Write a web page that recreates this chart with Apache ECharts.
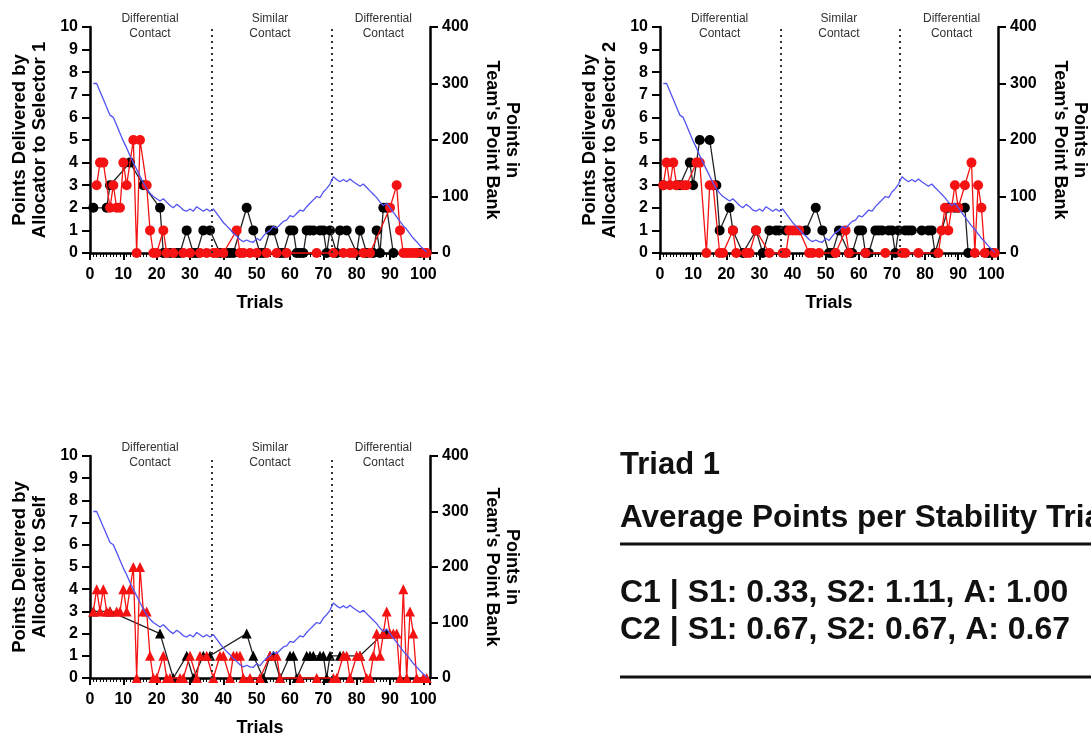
<!DOCTYPE html>
<html>
<head>
<meta charset="utf-8">
<script src="https://cdn.jsdelivr.net/npm/echarts@6/dist/echarts.min.js"></script>
<style>
html, body { margin: 0; padding: 0; background: #fff; }
#main { width: 1091px; height: 738px; }
</style>
</head>
<body>
<div id="main"></div>
<script>
// team's point bank, trials 1..101 (same for the three panels)
var bankPoints = [300, 300, 286, 272, 258, 244, 240, 226, 212, 198,
	186, 172, 160, 148, 136, 124, 114, 106, 100, 96,
	92, 96, 90, 84, 80, 86, 82, 76, 74, 78,
	74, 82, 78, 74, 78, 74, 78, 70, 62, 54,
	48, 42, 35, 30, 24, 20, 23, 20, 19, 26,
	22, 30, 36, 40, 47, 44, 50, 56, 58, 66,
	64, 70, 76, 74, 82, 88, 94, 100, 98, 108,
	114, 122, 135, 130, 126, 130, 126, 131, 126, 122,
	118, 122, 116, 110, 104, 98, 90, 84, 88, 80,
	72, 64, 56, 48, 42, 34, 26, 20, 13, 7, 2];

// [trial, points] for each panel
var sel1Black = [[1,2],[5,2],[6,3],[12,4],[16,3],[21,2],[22,0],[24,0],[26,0],[27,0],[29,1],[31,0],[32,0],[34,1],[36,1],
	[39,0],[41,0],[42,0],[43,0],[47,2],[49,1],[51,0],[52,0],[54,1],[55,1],[57,0],[58,0],[60,1],[61,1],[62,0],[63,0],
	[64,0],[65,1],[66,1],[67,1],[69,1],[70,1],[71,0],[72,1],[74,0],[75,1],[77,1],[80,0],[81,1],[83,0],[85,0],[86,1],
	[87,0],[88,2],[89,2],[91,0],[99,0]];
var sel1Red = [[2,3],[3,4],[4,4],[6,2],[7,3],[8,2],[9,2],[10,4],[11,3],[13,5],[14,0],[15,5],[17,3],[18,1],[19,0],[20,0],
	[22,1],[23,0],[25,0],[28,0],[30,0],[33,0],[35,0],[37,0],[38,0],[40,0],[44,1],[45,0],[46,0],[48,0],[50,0],[53,0],
	[56,0],[59,0],[68,0],[73,0],[76,0],[78,0],[79,0],[82,0],[84,0],[90,2],[92,3],[93,1],[94,0],[95,0],[96,0],[97,0],
	[98,0],[100,0],[101,0]];

var sel2Black = [[1,3],[5,3],[6,3],[9,4],[10,3],[12,5],[15,5],[17,3],[18,1],[21,2],[22,1],[25,0],[29,1],[31,0],[33,1],
	[35,1],[36,1],[38,1],[44,1],[47,2],[49,1],[51,0],[52,0],[54,1],[57,0],[58,0],[60,1],[61,1],[62,0],[63,0],[65,1],
	[66,1],[67,1],[69,1],[70,1],[71,0],[72,1],[74,1],[75,1],[76,1],[79,1],[81,1],[82,1],[83,0],[87,2],[89,2],[90,2],
	[92,2],[93,0],[99,0],[100,0]];
var sel2Red = [[1,3],[2,4],[3,3],[4,4],[5,3],[7,3],[8,3],[11,4],[12,4],[14,0],[15,3],[16,3],[18,0],[19,0],[22,1],[23,0],
	[26,0],[27,0],[29,1],[33,0],[37,0],[38,0],[39,1],[40,1],[41,1],[42,1],[45,0],[46,0],[48,0],[53,0],[56,1],[57,0],
	[62,0],[68,0],[73,0],[74,0],[78,0],[84,0],[85,1],[86,2],[87,1],[88,2],[89,3],[90,2],[92,3],[94,4],[95,0],[96,3],
	[97,2],[98,0],[101,0]];

var selfBlack = [[1,3],[6,3],[21,2],[25,0],[29,1],[31,0],[34,1],[36,1],[47,2],[49,1],[52,0],[54,1],[55,1],[57,0],[60,1],
	[61,1],[62,0],[65,1],[66,1],[67,1],[69,1],[70,1],[71,0],[72,1],[75,1],[76,1],[81,1],[88,2],[89,2]];
var selfRed = [[1,3],[2,4],[3,3],[4,4],[5,3],[6,3],[8,3],[9,3],[10,4],[11,3],[12,4],[13,5],[14,0],[15,5],[16,3],[17,3],
	[18,1],[19,0],[20,0],[22,1],[23,0],[24,0],[27,0],[28,0],[30,1],[32,0],[33,1],[35,1],[37,0],[39,1],[40,1],[42,0],
	[43,1],[44,1],[45,1],[46,0],[48,0],[51,0],[54,1],[56,1],[57,0],[63,0],[68,0],[73,0],[74,0],[76,1],[77,1],[78,0],
	[80,1],[81,1],[83,0],[84,0],[85,1],[86,2],[87,1],[88,2],[89,3],[90,2],[91,2],[92,2],[93,0],[94,4],[95,0],[96,3],
	[97,2],[98,0],[100,0],[101,0]];

var phaseBreaks = [36.5, 72.5];
var phaseCenters = [18, 54, 88];
var phaseNames = ['Differential\nContact', 'Similar\nContact', 'Differential\nContact'];
var leftNames = ['Points Delivered by\nAllocator to Selector 1', 'Points Delivered by\nAllocator to Selector 2', 'Points Delivered by\nAllocator to Self'];
var rightName = "Points in\nTeam's Point Bank";
var summaryTitle = 'Triad 1';
var summaryHead = 'Average Points per Stability Trials';
var summaryLines = ['C1 | S1: 0.33, S2: 1.11, A: 1.00', 'C2 | S1: 0.67, S2: 0.67, A: 0.67'];

var FONT = 'Liberation Sans, Arial, Helvetica, sans-serif';
var panels = [
	{ left: 90, top: 27, black: sel1Black, red: sel1Red, symbol: 'circle' },
	{ left: 660, top: 27, black: sel2Black, red: sel2Red, symbol: 'circle' },
	{ left: 90, top: 456, black: selfBlack, red: selfRed, symbol: 'triangle' }
];

var myChart = echarts.init(document.getElementById('main'));

var grid = [], xAxis = [], yAxis = [], series = [];
var bankData = bankPoints.map(function(v, i) { return [i + 1, v]; });

panels.forEach(function(p, i) {
	grid.push({ left: p.left, top: p.top, width: 340, height: 226 });
	xAxis.push({
		gridIndex: i, type: 'value', min: 0, max: 102, interval: 10,
		axisLine: { onZero: false, lineStyle: { color: '#000', width: 2.5 } },
		axisTick: { length: 7, lineStyle: { color: '#000', width: 2 } },
		minorTick: { show: true, splitNumber: 10, length: 4, lineStyle: { color: '#000', width: 1 } },
		splitLine: { show: false },
		axisLabel: {
			margin: 14, color: '#000', fontSize: 16, fontWeight: 'bold', fontFamily: FONT,
			formatter: function(v) { return v > 100 ? '' : v; }
		},
		name: 'Trials', nameLocation: 'middle', nameGap: 41,
		nameTextStyle: { color: '#000', fontSize: 18, fontWeight: 'bold', fontFamily: FONT }
	});
	yAxis.push({
		gridIndex: i, type: 'value', position: 'left', min: 0, max: 10, interval: 1,
		axisLine: { show: true, lineStyle: { color: '#000', width: 2.5 } },
		axisTick: { show: true, length: 8, lineStyle: { color: '#000', width: 2 } },
		splitLine: { show: false },
		axisLabel: { margin: 12, color: '#000', fontSize: 16, fontWeight: 'bold', fontFamily: FONT },
		name: leftNames[i], nameLocation: 'middle', nameGap: 40,
		nameTextStyle: { color: '#000', fontSize: 18.5, fontWeight: 'bold', fontFamily: FONT, lineHeight: 20 }
	});
	yAxis.push({
		gridIndex: i, type: 'value', position: 'right', min: 0, max: 400, interval: 100,
		axisLine: { show: true, lineStyle: { color: '#000', width: 2.5 } },
		axisTick: { show: true, length: 8, lineStyle: { color: '#000', width: 2 } },
		splitLine: { show: false },
		axisLabel: { margin: 12, color: '#000', fontSize: 16, fontWeight: 'bold', fontFamily: FONT },
		name: rightName, nameLocation: 'middle', nameGap: 52, nameRotate: -90,
		nameTextStyle: { color: '#000', fontSize: 18, fontWeight: 'bold', fontFamily: FONT, lineHeight: 20 }
	});

	series.push({
		type: 'line', xAxisIndex: i, yAxisIndex: 2 * i, data: p.black, clip: false,
		symbol: p.symbol, symbolSize: 10,
		itemStyle: { color: '#000' }, lineStyle: { color: '#222', width: 1.3 },
		markLine: {
			silent: true, symbol: 'none', label: { show: false },
			lineStyle: { type: [2, 4], color: '#333', width: 2 },
			data: phaseBreaks.map(function(x) { return { xAxis: x }; })
		},
		z: 3
	});
	series.push({
		type: 'line', xAxisIndex: i, yAxisIndex: 2 * i, data: p.red, clip: false,
		symbol: p.symbol, symbolSize: 10,
		itemStyle: { color: '#f51212' }, lineStyle: { color: '#f51212', width: 1.3 },
		z: 4
	});
	series.push({
		type: 'line', xAxisIndex: i, yAxisIndex: 2 * i + 1, data: bankData,
		showSymbol: false, symbol: 'none',
		lineStyle: { color: '#5252f2', width: 1.3 },
		z: 5
	});
});

var option = {
	backgroundColor: '#fff',
	animation: false,
	grid: grid,
	xAxis: xAxis,
	yAxis: yAxis,
	series: series
};
myChart.setOption(option);

// phase labels over each panel, summary text on the right
var graphic = [];
panels.forEach(function(p, i) {
	var topY = myChart.convertToPixel({ yAxisIndex: 2 * i }, 10);
	phaseCenters.forEach(function(c, k) {
		graphic.push({
			type: 'text',
			style: {
				x: myChart.convertToPixel({ xAxisIndex: i }, c), y: topY - 1,
				text: phaseNames[k], fill: '#333', font: '12px ' + FONT,
				align: 'center', verticalAlign: 'middle', lineHeight: 15
			}
		});
	});
});
graphic.push({ type: 'text', style: { x: 620, y: 465, text: summaryTitle, fill: '#111', font: 'bold 31px ' + FONT, verticalAlign: 'middle' } });
graphic.push({ type: 'text', style: { x: 620, y: 518, text: summaryHead, fill: '#111', font: 'bold 31.5px ' + FONT, verticalAlign: 'middle' } });
graphic.push({ type: 'line', shape: { x1: 620, y1: 544, x2: 1091, y2: 544 }, style: { stroke: '#111', lineWidth: 3 } });
summaryLines.forEach(function(t, k) {
	graphic.push({ type: 'text', style: { x: 620, y: 593 + k * 37, text: t, fill: '#111', font: 'bold 32px ' + FONT, verticalAlign: 'middle' } });
});
graphic.push({ type: 'line', shape: { x1: 620, y1: 677, x2: 1091, y2: 677 }, style: { stroke: '#111', lineWidth: 3 } });

myChart.setOption({ graphic: graphic });
</script>
</body>
</html>
